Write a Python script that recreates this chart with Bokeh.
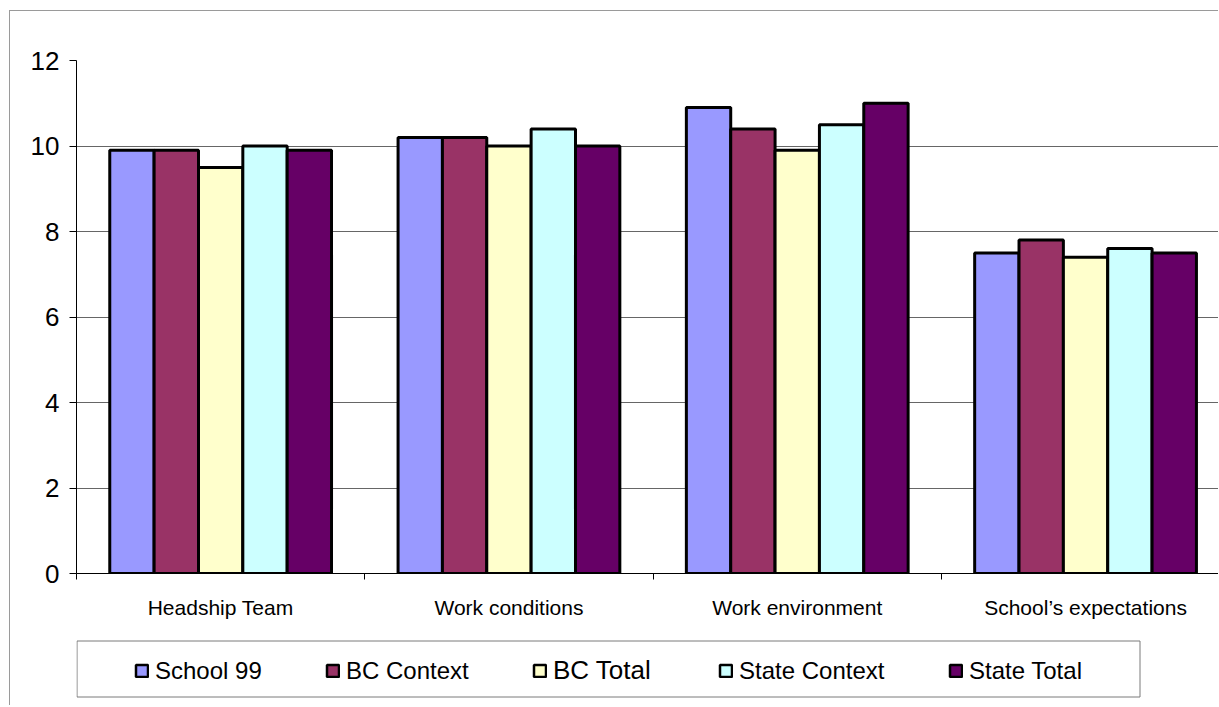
import numpy as np
from bokeh.plotting import figure
from bokeh.layouts import column
from bokeh.models import (ColumnDataSource, FixedTicker, Legend, LegendItem, Range1d,
                          BoxAnnotation)
from bokeh.transform import dodge
from bokeh.embed import file_html
from bokeh.resources import INLINE

# ---------------- data ----------------
categories = ["Headship Team", "Work conditions", "Work environment", "School\u2019s expectations"]
series = ["School 99", "BC Context", "BC Total", "State Context", "State Total"]
school_99 = [9.9, 10.2, 10.9, 7.5]
bc_context = [9.9, 10.2, 10.4, 7.8]
bc_total = [9.5, 10.0, 9.9, 7.4]
state_context = [10.0, 10.4, 10.5, 7.6]
state_total = [9.9, 10.0, 11.0, 7.5]
y_ticks = [0, 2, 4, 6, 8, 10, 12]

# ---------------- style / layout ----------------
colors = ["#9999FF", "#993366", "#FFFFCC", "#CCFFFF", "#660066"]
FONT = "Liberation Sans"
OX, OY = 10, 11                    # page offset of layout content (margin + border)
W = 1209                           # figure width
H_MAIN, H_LEG = 619, 76
FL, FT, FB = 76 - OX, 60 - OY, 573 - OY   # frame left / top / bottom in figure px
CAT_PX = 288.3                     # px per category
FRAME_W = W - FL
x_end = FRAME_W / CAT_PX

keys = ["s0", "s1", "s2", "s3", "s4"]
values = [school_99, bc_context, bc_total, state_context, state_total]
centers = np.arange(len(categories)) + 0.5
src = ColumnDataSource(dict(x=centers, **{k: v for k, v in zip(keys, values)}))

p = figure(width=W, height=H_MAIN, output_backend="svg", toolbar_location=None,
           x_range=Range1d(0, x_end), y_range=Range1d(0, 12),
           min_border_left=FL, min_border_right=0, min_border_top=FT,
           min_border_bottom=H_MAIN - FB)
p.outline_line_color = None

bw = 1 / 6.5
for i, (k, c) in enumerate(zip(keys, colors)):
    p.vbar(x=dodge("x", (i - 2) * bw, range=p.x_range), top=k, width=bw,
           source=src, fill_color=c, line_color="black", line_width=3)

# y axis
yax = p.yaxis[0]
yax.ticker = FixedTicker(ticks=y_ticks)
yax.axis_line_color = "black"
yax.major_tick_line_color = "black"
yax.major_tick_out = 7
yax.major_tick_in = 0
yax.minor_tick_line_color = None
yax.major_label_text_font = FONT
yax.major_label_text_font_size = "26px"
yax.major_label_text_color = "black"
yax.major_label_standoff = 10

# x axis: labels at centres, ticks at boundaries
xax = p.xaxis[0]
xax.ticker = FixedTicker(ticks=list(centers), minor_ticks=list(range(len(categories) + 1)))
xax.major_label_overrides = {float(c): name for c, name in zip(centers, categories)}
xax.axis_line_color = "black"
xax.major_tick_line_color = None
xax.major_tick_out = 0
xax.major_tick_in = 0
xax.minor_tick_line_color = "black"
xax.minor_tick_out = 6
xax.minor_tick_in = 0
xax.major_label_text_font = FONT
xax.major_label_text_font_size = "21px"
xax.major_label_text_color = "black"
xax.major_label_standoff = 16

p.xgrid.grid_line_color = None
p.ygrid.ticker = FixedTicker(ticks=y_ticks)
p.ygrid.grid_line_color = "#666666"
p.ygrid.grid_line_width = 1
p.styles = {"border-top": "1px solid #9a9a9a", "border-left": "1px solid #9a9a9a"}

# ---------------- legend figure (1 data unit = 1 px) ----------------
q = figure(width=W, height=H_LEG, output_backend="svg", toolbar_location=None,
           x_range=Range1d(0, FRAME_W), y_range=Range1d(0, H_LEG),
           x_axis_location=None, y_axis_location=None,
           min_border_left=FL, min_border_right=0,
           min_border_top=0, min_border_bottom=0)
q.xgrid.grid_line_color = None
q.ygrid.grid_line_color = None
q.outline_line_color = None
q.styles = {"border-left": "1px solid #9a9a9a"}

PAGE_FL = FL + OX                  # frame left on page
PAGE_BOT = OY + H_MAIN + H_LEG     # legend figure bottom on page
box_l, box_r, box_t, box_b = 72, 1139, 641, 698   # legend box on page
q.add_layout(BoxAnnotation(left=max(box_l - PAGE_FL, 0) + 0.5, right=box_r - PAGE_FL + 0.5,
                           top=PAGE_BOT - box_t - 0.5, bottom=PAGE_BOT - box_b + 0.5,
                           fill_color=None, fill_alpha=0,
                           line_color="#7a7a7a", line_alpha=1, line_width=1))

leg_x = [134, 325, 532, 718, 948]          # square left edges (page px)
leg_fs = ["24px", "24px", "26px", "24px", "24px"]
leg_mid = 669.5                             # vertical centre of entries (page px)
for i in range(len(series)):
    r = q.vbar(x=[np.nan], top=[np.nan], width=1, fill_color=colors[i],
               line_color="black", line_width=2.5)
    half = 16 if leg_fs[i] == "24px" else 17
    lg = Legend(items=[LegendItem(label=series[i], renderers=[r])],
                location=(leg_x[i] - PAGE_FL, PAGE_BOT - (leg_mid + half)),
                orientation="horizontal",
                padding=0, margin=0, border_line_color=None,
                background_fill_alpha=0, glyph_width=15, glyph_height=15,
                label_standoff=6, label_text_font=FONT,
                label_text_font_size=leg_fs[i], label_text_color="black")
    q.add_layout(lg, "center")

layout = column(p, q, spacing=0, margin=(10, 0, 0, 9))

open("out.html", "w").write(file_html(layout, INLINE))
